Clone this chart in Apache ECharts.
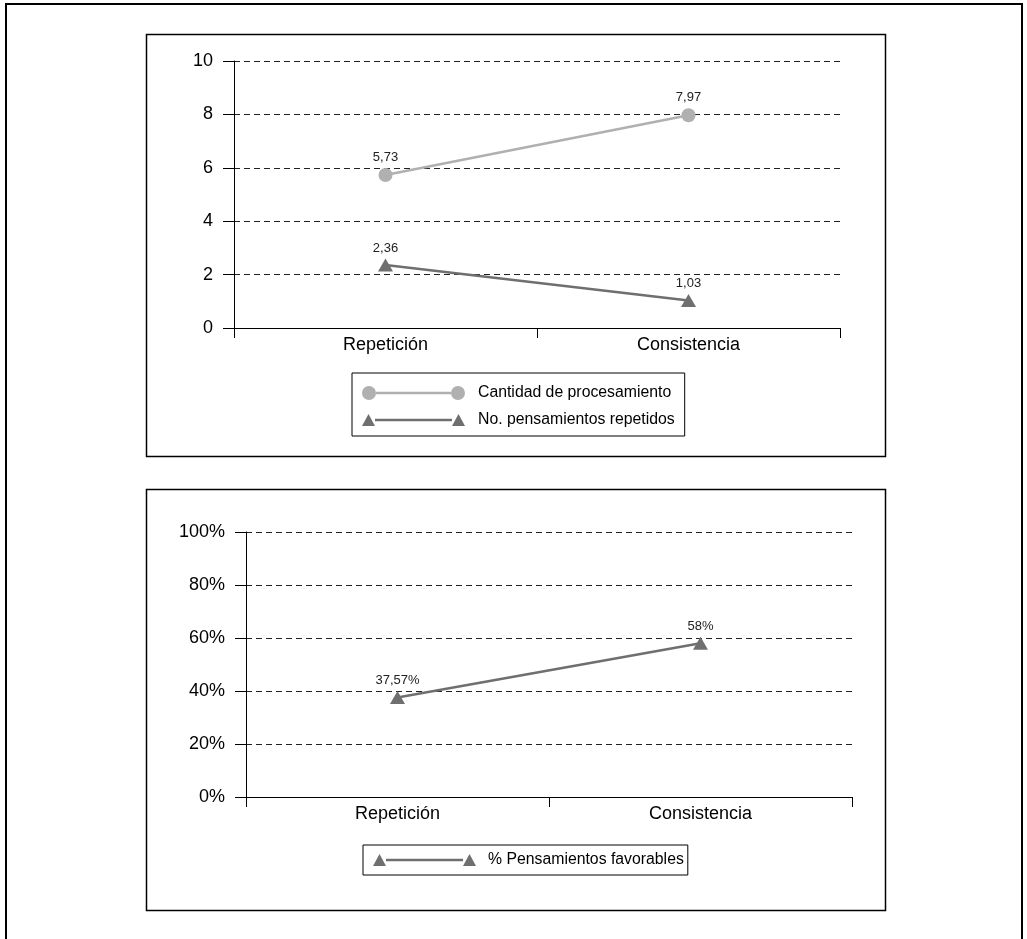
<!DOCTYPE html>
<html><head><meta charset="utf-8">
<script src="https://cdn.jsdelivr.net/npm/echarts@6/dist/echarts.min.js"></script>
<style>html,body{margin:0;padding:0;background:#fff}#c{width:1027px;height:939px}</style>
</head><body><div id="c"></div>
<script>
const categories = ['Repetición', 'Consistencia'];
const procesamiento = [5.73, 7.97];
const repetidos = [2.36, 1.03];
const favorables = [37.57, 58];
const topTicks = [0, 2, 4, 6, 8, 10];
const bottomTicks = [0, 20, 40, 60, 80, 100];
const names = ['Cantidad de procesamiento', 'No. pensamientos repetidos', '% Pensamientos favorables'];

const FONT = "'Liberation Sans', Arial, sans-serif";
const LIGHT = '#b0b0b0';
const DARK = '#6f6f6f';
const circleIcon = 'path://M0 7A7 7 0 1 0 14 7A7 7 0 1 0 0 7Z M14 5.7L89 5.7L89 8.3L14 8.3Z M89 7A7 7 0 1 0 103 7A7 7 0 1 0 89 7Z';
const triIcon = 'path://M0 13L6.5 1L13 13Z M13 5.7L90 5.7L90 8.3L13 8.3Z M90 13L96.5 1L103 13Z';

const comma = v => String(v).replace('.', ',');

function xAxis(gridIndex, margin) {
  return {
    type: 'category', gridIndex, data: categories, boundaryGap: true,
    axisLine: { lineStyle: { color: '#000', width: 1 } },
    axisTick: { show: true, length: 10, lineStyle: { color: '#000' } },
    axisLabel: { color: '#000', fontSize: 18, fontFamily: FONT, margin },
    splitLine: { show: false }
  };
}
function yAxis(gridIndex, ticks, fmt) {
  return {
    type: 'value', gridIndex,
    min: ticks[0], max: ticks[ticks.length - 1], interval: ticks[1] - ticks[0],
    axisLine: { show: true, lineStyle: { color: '#000', width: 1 } },
    axisTick: { show: true, length: 11, lineStyle: { color: '#000' } },
    axisLabel: { color: '#000', fontSize: 18, fontFamily: FONT, margin: 21, formatter: fmt },
    splitLine: { show: true, lineStyle: { color: '#222', width: 1, type: [6, 4] } }
  };
}
const labelStyle = fmt => ({ show: true, position: 'top', distance: 4, color: '#222', fontSize: 13, fontFamily: FONT, formatter: fmt });

const chart = echarts.init(document.getElementById('c'), null, { renderer: 'canvas' });
chart.setOption({
  backgroundColor: '#fff',
  animation: false,
  graphic: [
    { type: 'rect', shape: { x: 6, y: 4, width: 1016, height: 1000 }, style: { fill: 'none', stroke: '#000', lineWidth: 2 }, silent: true },
    { type: 'rect', shape: { x: 146.5, y: 34.5, width: 739, height: 422 }, style: { fill: 'none', stroke: '#000', lineWidth: 1.5 }, silent: true },
    { type: 'rect', shape: { x: 146.5, y: 489.5, width: 739, height: 421 }, style: { fill: 'none', stroke: '#000', lineWidth: 1.5 }, silent: true }
  ],
  grid: [
    { left: 234, top: 61, width: 606, height: 267, outerBoundsMode: 'none', containLabel: false },
    { left: 246, top: 532, width: 606, height: 265, outerBoundsMode: 'none', containLabel: false }
  ],
  legend: [
    {
      data: [{ name: names[0], icon: circleIcon }, { name: names[1], icon: triIcon }],
      orient: 'vertical', left: 352, top: 373,
      itemWidth: 103, itemHeight: 14, itemGap: 11,
      padding: [12, 10, 8, 10], borderColor: '#000', borderWidth: 1,
      textStyle: { color: '#000', fontSize: 15.8, fontFamily: FONT, padding: [0, 0, 0, 8] },
      selectedMode: false
    },
    {
      data: [{ name: names[2], icon: triIcon }],
      orient: 'vertical', left: 363, top: 845,
      itemWidth: 103, itemHeight: 14,
      padding: [7, 4, 7, 10], borderColor: '#000', borderWidth: 1,
      textStyle: { color: '#000', fontSize: 15.8, fontFamily: FONT, padding: [0, 0, 0, 7] },
      selectedMode: false
    }
  ],
  xAxis: [xAxis(0, 8), xAxis(1, 8.5)],
  yAxis: [yAxis(0, topTicks, '{value}'), yAxis(1, bottomTicks, '{value}%')],
  series: [
    {
      name: names[0], type: 'line', xAxisIndex: 0, yAxisIndex: 0, data: procesamiento,
      color: LIGHT, symbol: 'circle', symbolSize: 14,
      lineStyle: { color: LIGHT, width: 2.6 }, itemStyle: { color: LIGHT },
      label: labelStyle(p => comma(p.value))
    },
    {
      name: names[1], type: 'line', xAxisIndex: 0, yAxisIndex: 0, data: repetidos,
      color: DARK, symbol: 'triangle', symbolSize: [15, 13],
      lineStyle: { color: DARK, width: 2.6 }, itemStyle: { color: DARK },
      label: labelStyle(p => comma(p.value))
    },
    {
      name: names[2], type: 'line', xAxisIndex: 1, yAxisIndex: 1, data: favorables,
      color: DARK, symbol: 'triangle', symbolSize: [15, 13],
      lineStyle: { color: DARK, width: 2.6 }, itemStyle: { color: DARK },
      label: labelStyle(p => comma(p.value) + '%')
    }
  ]
});
</script></body></html>
